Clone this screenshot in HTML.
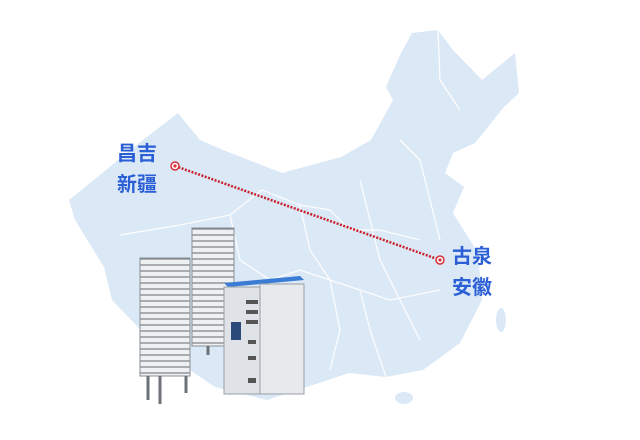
<!DOCTYPE html>
<html><head><meta charset="utf-8"><style>
body{margin:0;background:#fff;}
svg{display:block}
text{font-family:"Liberation Sans","Noto Sans CJK SC",sans-serif;font-weight:bold;fill:#2a5fd6;font-size:20px}
</style></head><body>
<svg width="640" height="440" viewBox="0 0 640 440">
<defs>
<pattern id="rk" width="8" height="6" patternUnits="userSpaceOnUse">
<rect width="8" height="6" fill="#eef0f2"/><line x1="0" y1="1" x2="8" y2="1" stroke="#7b8086" stroke-width="1.2"/></pattern>
</defs>
<path d="M69,200 L100,175 L130,150 L178,113 L200,140 L223,150 L282,173 L341,157 L371,140 L393,100 L386,87 L400,55 L412,33 L438,30 L453,50 L482,80 L515,53 L519,93 L504,107 L475,143 L453,153 L445,173 L464,187 L453,213 L478,253 L482,300 L460,343 L423,370 L386,377 L349,373 L319,383 L267,400 L215,387 L160,350 L112,300 L104,267 L75,220 Z" fill="#dbe8f6"/>
<ellipse cx="501" cy="320" rx="5" ry="12" fill="#dbe8f6"/>
<ellipse cx="404" cy="398" rx="9" ry="6" fill="#dbe8f6"/>
<g fill="none" stroke="#fff" stroke-width="1.3" opacity="0.9">
<path d="M120,235 L180,225 L230,215 L262,190 L300,205 L330,210 L350,230 L380,230 L420,240"/>
<path d="M230,215 L240,260 L270,280 L300,270 L330,280 L360,290 L390,300 L440,290"/>
<path d="M300,205 L310,250 L330,280 L340,330 L330,370"/>
<path d="M360,180 L370,220 L380,260 L400,300 L420,340"/>
<path d="M400,140 L420,160 L430,200 L440,240"/>
<path d="M438,30 L440,80 L460,110"/>
<path d="M270,280 L290,320 L300,370"/>
<path d="M360,290 L370,330 L386,377"/>
</g>
<line x1="175" y1="166" x2="440" y2="260" stroke="#c8202a" stroke-width="2.5" stroke-dasharray="2 1.5"/>
<circle cx="175" cy="166" r="4" fill="#fff" stroke="#d6303a" stroke-width="1.5"/><circle cx="175" cy="166" r="1.6" fill="#d6303a"/>
<circle cx="440" cy="260" r="4" fill="#fff" stroke="#d6303a" stroke-width="1.5"/><circle cx="440" cy="260" r="1.6" fill="#d6303a"/>
<text x="117" y="160">昌吉</text>
<text x="117" y="191">新疆</text>
<text x="452" y="263">古泉</text>
<text x="452" y="294">安徽</text>
<!-- racks -->
<rect x="192" y="228" width="42" height="118" fill="url(#rk)" stroke="#8a8f95"/>
<rect x="140" y="258" width="50" height="118" fill="url(#rk)" stroke="#8a8f95"/>
<g stroke="#6d7278" stroke-width="3">
<line x1="148" y1="376" x2="148" y2="400"/><line x1="160" y1="376" x2="160" y2="404"/><line x1="186" y1="376" x2="186" y2="393"/><line x1="208" y1="346" x2="208" y2="355"/>
</g>
<!-- cabinet -->
<polygon points="224,283 300,276 304,280 228,287" fill="#3a7bd5"/>
<rect x="224" y="287" width="36" height="107" fill="#dfe2e6" stroke="#9aa0a6"/>
<rect x="260" y="284" width="44" height="110" fill="#e7e9ec" stroke="#9aa0a6"/>
<rect x="231" y="322" width="10" height="18" fill="#2b4a7a"/>
<g fill="#555"><rect x="246" y="300" width="12" height="4"/><rect x="246" y="310" width="12" height="4"/><rect x="246" y="320" width="12" height="4"/><rect x="248" y="340" width="8" height="4"/><rect x="248" y="356" width="8" height="4"/><rect x="248" y="378" width="8" height="5"/></g>
</svg>
</body></html>
